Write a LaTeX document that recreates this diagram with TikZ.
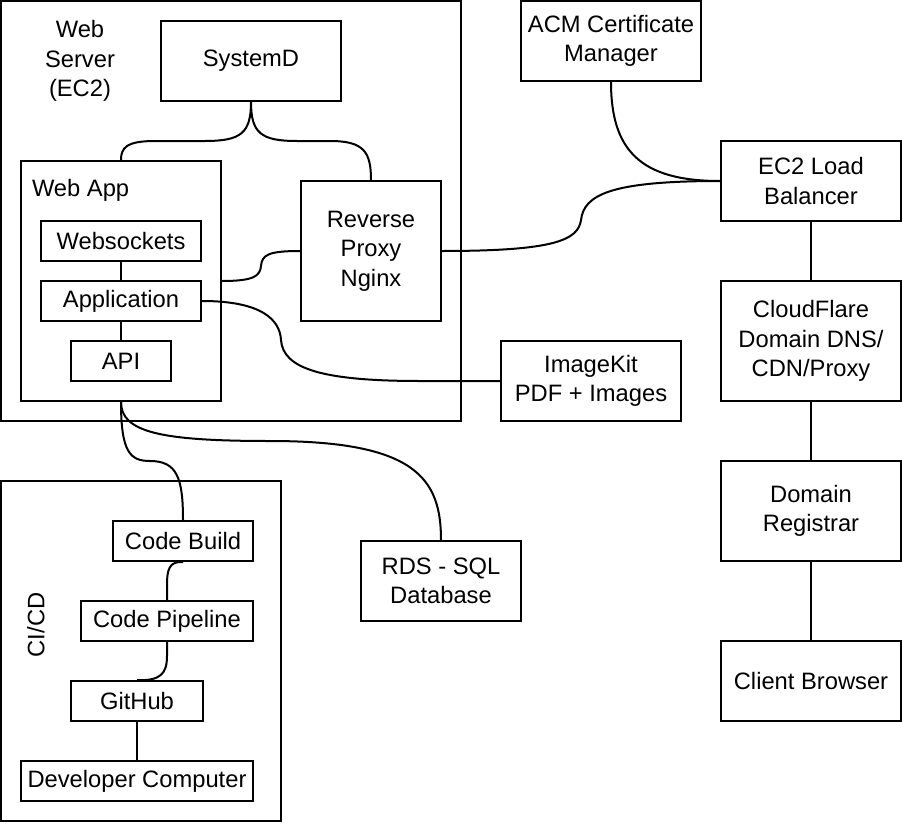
\documentclass[tikz,border=0pt]{standalone}
\usepackage{fontspec}
\setmainfont{Liberation Sans}
\begin{document}
\begin{tikzpicture}[x=0.75pt,y=-0.75pt,line width=1.5pt]
	\useasboundingbox (0,0) rectangle (902,824);
	\begin{scope}[every node/.style={font=\fontsize{17.8}{22.2}\selectfont,align=center,inner sep=0pt}]
		\tikzstyle{box}=[draw,shape=rectangle,minimum width=135pt,minimum height=60pt]
		\tikzstyle{slim}=[box,minimum height=30pt]
		% containers
		\path (231,211) node [box,minimum width=345pt,minimum height=315pt] (server) {};
		\path (141,651) node [box,minimum width=210pt,minimum height=255pt] (cicd) {};
		\path (80,61) node (serverlbl) {Web\\Server\\(EC2)};
		\path (36,625) node [rotate=90] (cicdlbl) {CI/CD};
		% web server
		\path (251,61) node [box] (sysd) {SystemD};
		\path (121,281) node [box,minimum width=150pt,minimum height=180pt] (webapp) {};
		\path (31,190) node [anchor=west] (webapplbl) {Web App};
		\path (121,241) node [slim,minimum width=120pt] (wsock) {Websockets};
		\path (121,301) node [slim,minimum width=120pt] (app) {Application};
		\path (121,361) node [slim,minimum width=75pt] (api) {API};
		\path (371,251) node [box,minimum width=105pt,minimum height=105pt] (proxy) {Reverse\\Proxy\\Nginx};
		% outside services
		\path (611,41) node [box] (acm) {ACM Certificate\\Manager};
		\path (811,181) node [box] (lb) {EC2 Load\\Balancer};
		\path (811,341) node [box,minimum height=90pt] (cflare) {CloudFlare\\Domain DNS/\\CDN/Proxy};
		\path (811,511) node [box,minimum height=75pt] (registrar) {Domain\\Registrar};
		\path (811,681) node [box] (browser) {Client Browser};
		\path (591,381) node [box] (imgkit) {ImageKit\\PDF + Images};
		\path (441,581) node [box,minimum width=120pt] (rds) {RDS - SQL\\Database};
		% ci/cd
		\path (183,541) node [slim,minimum width=105pt] (build) {Code Build};
		\path (167,621) node [slim,minimum width=129pt] (pipe) {Code Pipeline};
		\path (137,701) node [slim,minimum width=99pt] (github) {GitHub};
		\path (137,781) node [slim,minimum width=174pt] (dev) {Developer Computer};
		% straight links
		\draw (wsock) -- (app);
		\draw (app) -- (api);
		\draw (lb) -- (cflare);
		\draw (cflare) -- (registrar);
		\draw (registrar) -- (browser);
		\draw (github) -- (dev);
		% curved links
		\draw (sysd.south) .. controls (251,133) and (241,141) .. (205,141) -- (155,141) .. controls (126,141) and (121,148) .. (webapp.north);
		\draw (sysd.south) .. controls (251,133) and (261,141) .. (297,141) -- (330,141) .. controls (364,141) and (371,152) .. (proxy.north);
		\draw (webapp.east) .. controls (254,281) and (260,276) .. (261,266) .. controls (262,255) and (268,251) .. (proxy.west);
		\draw (proxy.east) .. controls (555,251) and (578,240) .. (581,220) .. controls (584,195) and (610,181) .. (lb.west);
		\draw (acm.south) .. controls (611,150) and (640,181) .. (lb.west);
		\draw (app.east) .. controls (262,301) and (280,320) .. (281,340) .. controls (283,368) and (320,381) .. (420,381) -- (imgkit.west);
		\draw (webapp.south) .. controls (121,452) and (130,461) .. (150,461) .. controls (177,461) and (183,478) .. (build.north);
		\draw (webapp.south) .. controls (121,432) and (160,441) .. (270,441) .. controls (415,441) and (441,478) .. (rds.north);
		\draw (build.south) .. controls (169,561) and (167,570) .. (167,585) -- (pipe.north);
		\draw (pipe.south) -- (167,656) .. controls (167,674) and (160,681) .. (github.north);
	\end{scope}
\end{tikzpicture}
\end{document}
